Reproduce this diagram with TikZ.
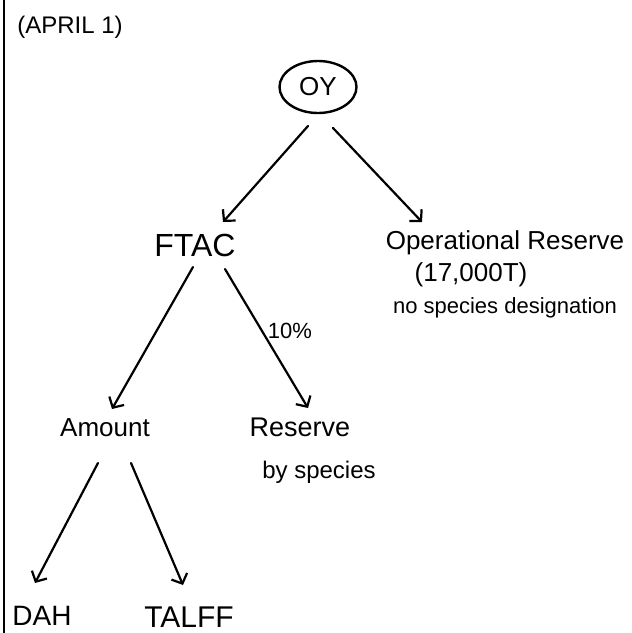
\documentclass[tikz,border=0pt]{standalone}
\usepackage{fontspec}
\setmainfont{Liberation Sans}
\usetikzlibrary{arrows.meta,calc,shapes.geometric}
\newcommand{\fsz}[1]{\fontsize{#1}{#1}\selectfont}
\begin{document}
\begin{tikzpicture}[x=1pt,y=-1pt,
  lbl/.style={inner sep=0pt, anchor=center},
  arr/.style={line width=2.2pt, line cap=round, -{Straight Barb[length=8pt,width=17pt,line width=2.2pt]}},
  ovalbox/.style={ellipse, draw, line width=2.4pt, minimum width=77pt, minimum height=52pt, inner sep=0pt}
]
\useasboundingbox (0,0) rectangle (632,633);
\fill[white] (0,0) rectangle (632,633);
% left margin rule
\coordinate (rtop) at (4,0);
\coordinate (rbot) at (4,633);
\draw[line width=2.4pt] (rtop) -- (rbot);

\node[lbl, font=\fsz{24}] (april) at (70,27) {(APRIL 1)};
\node[ovalbox, font=\fsz{26}] (oy) at (318,87) {OY};
\node[lbl, font=\fsz{32}] (ftac) at (195,245) {FTAC};
\node[lbl, font=\fsz{26}] (oper) at (505,243) {Operational Reserve};
\node[lbl, font=\fsz{26}] (opamt) at (471,275) {(17,000T)};
\node[lbl, font=\fsz{22}] (opnote) at (505,308) {no species designation};
\node[lbl, font=\fsz{22}] (pct) at (290,331) {10\%};
\node[lbl, font=\fsz{26}] (amount) at (105,428) {Amount};
\node[lbl, font=\fsz{27}] (reserve) at (300,427) {Reserve};
\node[lbl, font=\fsz{24}] (byspec) at (319,472) {by species};
\node[lbl, font=\fsz{28}] (dah) at (42,616) {DAH};
\node[lbl, font=\fsz{30}] (talff) at (189,617) {TALFF};

\draw[arr] ($(oy)+(-10,39)$) -- ($(ftac)+(28,-23)$);
\draw[arr] ($(oy)+(15,41)$) -- ($(oper)+(-83,-21)$);
\draw[arr] ($(ftac)+(-2,22)$) -- ($(amount)+(7,-19)$);
\draw[arr] ($(ftac)+(30,24)$) -- ($(reserve)+(8,-19)$);
\draw[arr] ($(amount)+(-7,35)$) -- ($(dah)+(-7,-33)$);
\draw[arr] ($(amount)+(26,35)$) -- ($(talff)+(-6,-32)$);
\end{tikzpicture}
\end{document}
